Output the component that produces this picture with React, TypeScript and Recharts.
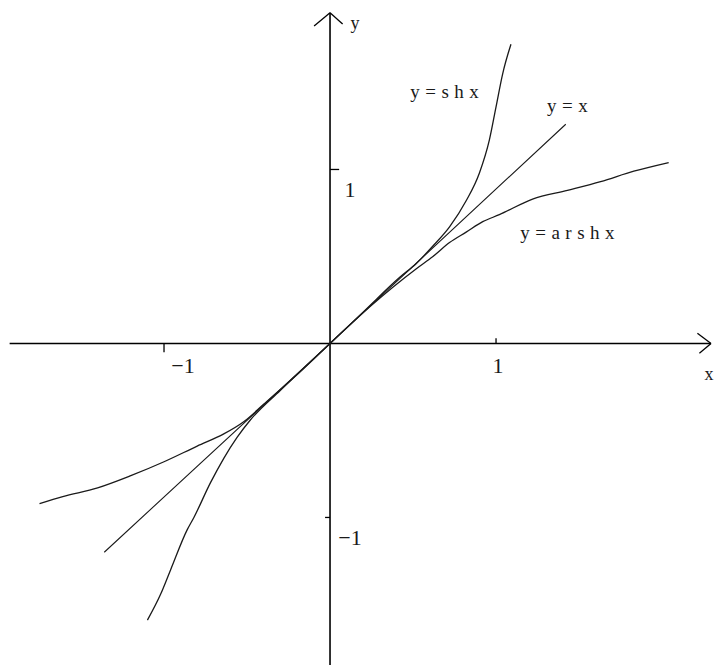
import { LineChart, Line, XAxis, YAxis, ReferenceLine, ReferenceDot } from "recharts";

// y = sh x
const shxX = [-1.1, -1.02, -0.96, -0.86, -0.82, -0.72, -0.64, -0.56, -0.48, -0.3, 0, 0.21, 0.42, 0.52, 0.62, 0.72, 0.82, 0.9, 0.96, 1.0, 1.04, 1.09];
const shxY = [-1.59, -1.44, -1.3, -1.07, -1.0, -0.8, -0.66, -0.54, -0.44, -0.27, 0, 0.19, 0.38, 0.46, 0.56, 0.67, 0.82, 0.98, 1.17, 1.36, 1.55, 1.72];

// y = x
const idX = [-1.36, 0, 1.42];
const idY = [-1.2, 0, 1.26];

// y = arsh x
const arshX = [-1.75, -1.61, -1.4, -1.2, -1.0, -0.8, -0.64, -0.52, -0.4, -0.2, 0, 0.25, 0.52, 0.62, 0.72, 0.82, 0.92, 1.02, 1.22, 1.43, 1.63, 1.83, 2.04];
const arshY = [-0.92, -0.88, -0.83, -0.76, -0.68, -0.59, -0.52, -0.45, -0.35, -0.18, 0, 0.22, 0.43, 0.5, 0.58, 0.64, 0.7, 0.74, 0.83, 0.88, 0.93, 0.99, 1.04];

const xTicks = [-1, 1];
const yTicks = [-1, 1];
const xTickLabels = ["−1", "1"];
const yTickLabels = ["−1", "1"];

const curveLabels = ["y=shx", "y=x", "y=arshx"];
const curveLabelX = [0.69, 1.43, 1.43];
const curveLabelY = [1.45, 1.37, 0.635];

const W = 714;
const H = 665;
const X_DOMAIN: [number, number] = [-1.988, 2.313];
const Y_DOMAIN: [number, number] = [-1.848, 1.974];
const X_EXTENT: [number, number] = [-1.93, 2.295];
const Y_EXTENT: [number, number] = [-1.848, 1.901];

const zip = (xs: number[], ys: number[]) => xs.map((x, i) => ({ x, y: ys[i] }));

const INK = "#1a1a1a";
const SERIF = "'Liberation Serif', 'DejaVu Serif', serif";

function textAt(
  key: string,
  x: number,
  y: number,
  value: string,
  dx: number,
  dy: number,
  size: number,
  spacing = 0
) {
  return (
    <ReferenceDot
      key={key}
      x={x}
      y={y}
      r={0}
      ifOverflow="visible"
      shape={(p: any) => (
        <text
          x={p.cx + dx + spacing / 2}
          y={p.cy + dy}
          textAnchor="middle"
          dominantBaseline="central"
          fontFamily={SERIF}
          fontSize={size}
          letterSpacing={spacing}
          fill={INK}
        >
          {value}
        </text>
      )}
    />
  );
}

function seg(key: string, x1: number, y1: number, x2: number, y2: number, w = 1.6) {
  return (
    <ReferenceLine
      key={key}
      segment={[
        { x: x1, y: y1 },
        { x: x2, y: y2 },
      ]}
      stroke="#000"
      strokeWidth={w}
      ifOverflow="visible"
    />
  );
}

export default function App() {
  return (
    <div style={{ position: "absolute", left: 0, top: 0, background: "#fff" }}>
      <LineChart width={W} height={H} margin={{ top: 0, right: 0, bottom: 0, left: 0 }}>
        <XAxis type="number" dataKey="x" domain={X_DOMAIN} hide allowDataOverflow />
        <YAxis type="number" dataKey="y" domain={Y_DOMAIN} hide allowDataOverflow />

        {/* axes through the origin with arrowheads */}
        {seg("xaxis", X_EXTENT[0], 0, X_EXTENT[1], 0)}
        {seg("yaxis", 0, Y_EXTENT[0], 0, Y_EXTENT[1])}
        {seg("xa1", X_EXTENT[1], 0, 2.213, 0.059, 1.3)}
        {seg("xa2", X_EXTENT[1], 0, 2.225, -0.056, 1.3)}
        {seg("ya1", 0, Y_EXTENT[1], -0.096, 1.825, 1.3)}
        {seg("ya2", 0, Y_EXTENT[1], 0.076, 1.836, 1.3)}

        {/* tick marks */}
        {seg("xt-1", -1, 0, -1, -0.05, 1.3)}
        {seg("xt1", 1, 0, 1, 0.03, 1.3)}
        {seg("yt1", 0, 1, 0.055, 1, 1.3)}
        {seg("yt-1", -0.03, -1, 0, -1, 1.3)}

        <Line
          data={zip(shxX, shxY)}
          dataKey="y"
          type="monotone"
          stroke={INK}
          strokeWidth={1.3}
          dot={false}
          activeDot={false}
          isAnimationActive={false}
        />
        <Line
          data={zip(idX, idY)}
          dataKey="y"
          type="linear"
          stroke={INK}
          strokeWidth={1.1}
          dot={false}
          activeDot={false}
          isAnimationActive={false}
        />
        <Line
          data={zip(arshX, arshY)}
          dataKey="y"
          type="monotone"
          stroke={INK}
          strokeWidth={1.3}
          dot={false}
          activeDot={false}
          isAnimationActive={false}
        />

        {xTicks.map((t, i) => textAt(`xl${i}`, t, 0, xTickLabels[i], t < 0 ? 19 : 2, 22, 22))}
        {yTicks.map((t, i) => textAt(`yl${i}`, 0, t, yTickLabels[i], 20, 20, 22))}
        {textAt("xname", X_EXTENT[1], 0, "x", -2, 31, 18)}
        {textAt("yname", 0, Y_EXTENT[1], "y", 25, 10, 18)}
        {curveLabels.map((s, i) => textAt(`cl${i}`, curveLabelX[i], curveLabelY[i], s, 0, 0, 19, 5.5))}
      </LineChart>
    </div>
  );
}
